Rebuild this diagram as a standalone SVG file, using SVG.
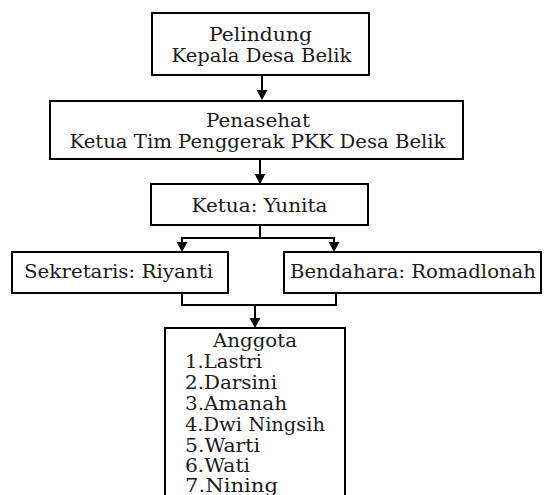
<svg xmlns="http://www.w3.org/2000/svg" width="546" height="495" viewBox="0 0 546 495">
<style>
.box{fill:#fff;stroke:#000;stroke-width:2}
.t{font-family:"DejaVu Serif","Liberation Serif",serif;font-size:18px;fill:#1a1a1a}
.c{text-anchor:middle}
.ln{fill:none;stroke:#000;stroke-width:2}
</style>
<rect width="546" height="495" fill="#fff"/>
<g id="connectors">
<path class="ln" d="M262,75 V92"/>
<path d="M256.5,90 L267.5,90 L262,100 Z"/>
<path class="ln" d="M260,159 V176"/>
<path d="M254.5,174 L265.5,174 L260,184 Z"/>
<path class="ln" d="M260,225 V238 M182,244 V238 H334 V244"/>
<path d="M176.5,242 L187.5,242 L182,252 Z"/>
<path d="M328.5,242 L339.5,242 L334,252 Z"/>
<path class="ln" d="M182,293 V305 H336 V293 M255,305 V320"/>
<path d="M249.5,318 L260.5,318 L255,328 Z"/>
</g>
<g id="pelindung">
<rect class="box" x="152" y="13" width="217" height="62"/>
<text class="t c" x="260.5" y="41" textLength="103" lengthAdjust="spacingAndGlyphs">Pelindung</text>
<text class="t c" x="261.5" y="62" textLength="180" lengthAdjust="spacingAndGlyphs">Kepala Desa Belik</text>
</g>
<g id="penasehat">
<rect class="box" x="50" y="101" width="413" height="58"/>
<text class="t c" x="258" y="127" textLength="104" lengthAdjust="spacingAndGlyphs">Penasehat</text>
<text class="t c" x="257.5" y="148" textLength="376" lengthAdjust="spacingAndGlyphs">Ketua Tim Penggerak PKK Desa Belik</text>
</g>
<g id="ketua">
<rect class="box" x="151" y="184" width="217" height="41"/>
<text class="t c" x="259.5" y="212" textLength="136" lengthAdjust="spacingAndGlyphs">Ketua: Yunita</text>
</g>
<g id="sekretaris">
<rect class="box" x="12" y="252" width="216" height="41"/>
<text class="t c" x="118.5" y="278" textLength="189" lengthAdjust="spacingAndGlyphs">Sekretaris: Riyanti</text>
</g>
<g id="bendahara">
<rect class="box" x="284" y="252" width="257" height="41"/>
<text class="t c" x="413" y="278" textLength="246" lengthAdjust="spacingAndGlyphs">Bendahara: Romadlonah</text>
</g>
<g id="anggota">
<rect class="box" x="165" y="328" width="180" height="180"/>
<text class="t c" x="255" y="347" textLength="84" lengthAdjust="spacingAndGlyphs">Anggota</text>
<text class="t" x="185" y="368" textLength="77" lengthAdjust="spacingAndGlyphs">1.Lastri</text>
<text class="t" x="185" y="389" textLength="92" lengthAdjust="spacingAndGlyphs">2.Darsini</text>
<text class="t" x="185" y="410" textLength="102" lengthAdjust="spacingAndGlyphs">3.Amanah</text>
<text class="t" x="185" y="431" textLength="140" lengthAdjust="spacingAndGlyphs">4.Dwi Ningsih</text>
<text class="t" x="185" y="452" textLength="75" lengthAdjust="spacingAndGlyphs">5.Warti</text>
<text class="t" x="185" y="472" textLength="65" lengthAdjust="spacingAndGlyphs">6.Wati</text>
<text class="t" x="185" y="492" textLength="93" lengthAdjust="spacingAndGlyphs">7.Nining</text>
</g>
</svg>
